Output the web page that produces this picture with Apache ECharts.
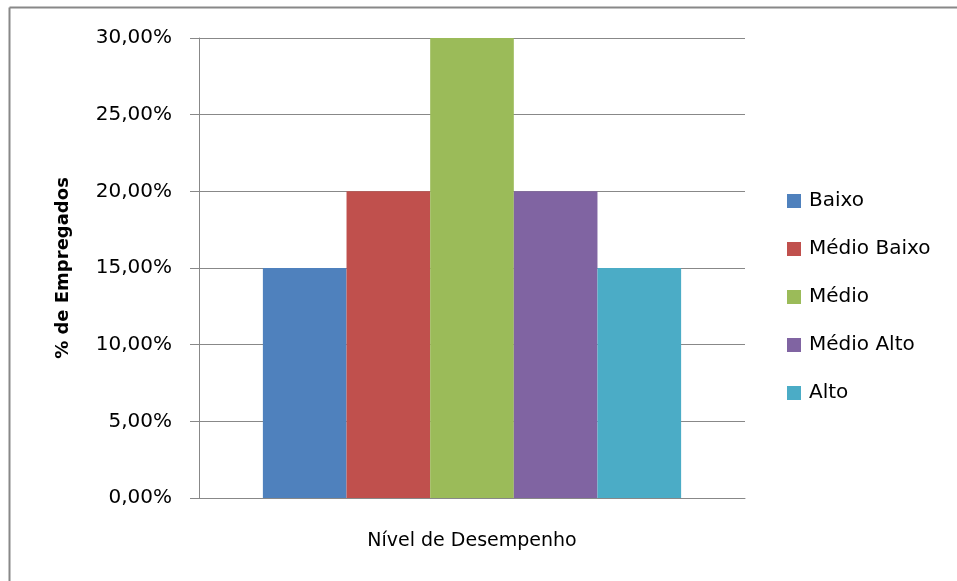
<!DOCTYPE html>
<html>
<head>
<meta charset="utf-8">
<script src="https://cdn.jsdelivr.net/npm/echarts@6/dist/echarts.min.js"></script>
<style>html,body{margin:0;padding:0;background:#fff}#c{width:957px;height:581px}</style>
</head>
<body>
<div id="c"></div>
<script>
var categories = [''];
var seriesNames = ['Baixo', 'Médio Baixo', 'Médio', 'Médio Alto', 'Alto'];
var seriesValues = [[0.15], [0.20], [0.30], [0.20], [0.15]];
var colors = ['#4F81BD', '#C0504D', '#9BBB59', '#8064A2', '#4BACC6'];
var yTicks = { min: 0, max: 0.30, interval: 0.05 };
var font = '"DejaVu Sans", sans-serif';

var chart = echarts.init(document.getElementById('c'), null, { renderer: 'canvas' });
var series = seriesNames.map(function (n, i) {
  return {
    name: n, type: 'bar', data: seriesValues[i],
    itemStyle: { color: colors[i] },
    barGap: '0%', barCategoryGap: '23.4%'
  };
});
chart.setOption({
  animation: false,
  backgroundColor: '#fff',
  textStyle: { fontFamily: font },
  graphic: [
    { type: 'line', shape: { x1: 9.5, y1: 7.5, x2: 957, y2: 7.5 }, style: { stroke: '#888', lineWidth: 2 } },
    { type: 'line', shape: { x1: 9.5, y1: 7.5, x2: 9.5, y2: 581 }, style: { stroke: '#888', lineWidth: 2 } }
  ],
  grid: { left: 199, right: 212, top: 38, bottom: 83 },
  legend: {
    orient: 'vertical', left: 782, top: 186,
    itemWidth: 14, itemHeight: 14, itemGap: 28,
    icon: 'rect',
    data: seriesNames,
    textStyle: { fontSize: 20, color: '#000', fontFamily: font, lineHeight: 20, padding: [0, 0, 0, 3] }
  },
  xAxis: {
    type: 'category', data: categories,
    name: 'Nível de Desempenho', nameLocation: 'middle', nameGap: 34,
    nameTextStyle: { fontSize: 19, color: '#000', fontFamily: font },
    axisLine: { lineStyle: { color: '#888', width: 1 } },
    axisTick: { show: false }, axisLabel: { show: false }
  },
  yAxis: {
    type: 'value', min: yTicks.min, max: yTicks.max, interval: yTicks.interval,
    name: '% de Empregados', nameLocation: 'middle', nameGap: 127,
    nameTextStyle: { fontSize: 18, fontWeight: 'bold', color: '#000', fontFamily: font },
    axisLine: { show: true, lineStyle: { color: '#888', width: 1 } },
    axisTick: { show: true, length: 9, lineStyle: { color: '#888' } },
    splitLine: { lineStyle: { color: '#888', width: 1 } },
    axisLabel: {
      margin: 27, fontSize: 20, color: '#000', fontFamily: font,
      formatter: function (v) { return (v * 100).toFixed(2).replace('.', ',') + '%'; }
    }
  },
  series: series
});
</script>
</body>
</html>
